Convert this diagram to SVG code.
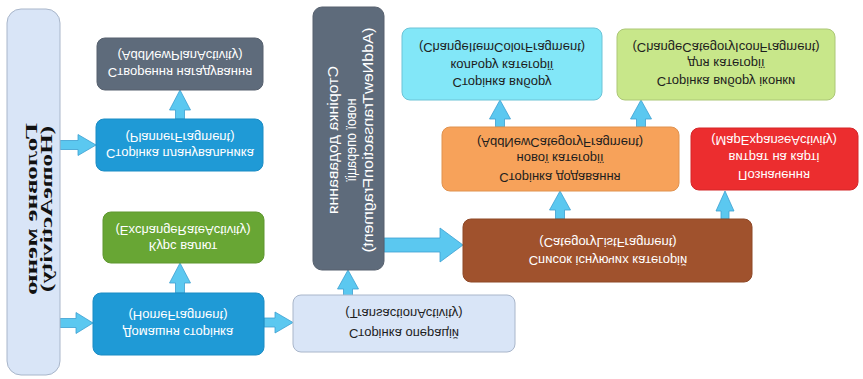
<svg xmlns="http://www.w3.org/2000/svg" width="863" height="379" viewBox="0 0 863 379">
<style>
.t{font-family:"Liberation Sans",Arial,sans-serif;font-size:13px;text-anchor:middle;dominant-baseline:central}
.w{fill:#ffffff}
.d{fill:#1e1e1e}
.v{font-family:"Liberation Sans",Arial,sans-serif;font-size:14px;text-anchor:middle;dominant-baseline:central;fill:#ffffff}
.m{font-family:"Liberation Serif","Times New Roman",serif;font-size:16px;font-weight:bold;text-anchor:middle;dominant-baseline:central;fill:#111111}
.arr{fill:#5bc8f0;stroke:#3c9fd0;stroke-width:0.8}
</style>
<rect width="863" height="379" fill="#ffffff"/>
<g id="connectors">
<polygon class="arr" points="175.5,119 175.5,110 169.5,110 180,90 190.5,110 184.5,110 184.5,119"/>
<polygon class="arr" points="175.5,293 175.5,283 169.5,283 180,263 190.5,283 184.5,283 184.5,293"/>
<polygon class="arr" points="343.5,296 343.5,289 337.5,289 348,270 358.5,289 352.5,289 352.5,296"/>
<polygon class="arr" points="555.5,219 555.5,210 549.5,210 560,191 570.5,210 564.5,210 564.5,219"/>
<polygon class="arr" points="495.5,127 495.5,119 489.5,119 500,100 510.5,119 504.5,119 504.5,127"/>
<polygon class="arr" points="636.5,127 636.5,119 630.5,119 641,100 651.5,119 645.5,119 645.5,127"/>
<polygon class="arr" points="721,219 721,211 716,211 725,191 734,211 729,211 729,219"/>
<polygon class="arr" points="60,140.5 78,140.5 78,134.5 96,145 78,155.5 78,149.5 60,149.5"/>
<polygon class="arr" points="60,318.5 76,318.5 76,312.5 93,323 76,333.5 76,327.5 60,327.5"/>
<polygon class="arr" points="264,318 275,318 275,312 293,322.5 275,333 275,327 264,327"/>
<polygon class="arr" points="384,238 440,238 440,228 463,245 440,262 440,252 384,252"/>
</g>
<g transform="matrix(1 0 0 -1 0 379)">
<g id="home-activity">
<rect x="7" y="4" width="53" height="366" rx="14" fill="#d9e5f7" stroke="#a9b6ca" stroke-width="1"/>
<text class="m" transform="translate(31,170) rotate(-90)" textLength="172" lengthAdjust="spacingAndGlyphs">Головне меню</text>
<text class="m" transform="translate(46,170) rotate(-90)" textLength="166" lengthAdjust="spacingAndGlyphs">(HomeActivity)</text>
</g>
<g id="add-new-plan">
<rect x="97" y="289" width="166" height="52" rx="8" fill="#5e6b7b" stroke="#56606e" stroke-width="1"/>
<text class="t w" x="180" y="307">Створення нагадування</text>
<text class="t w" x="180" y="324">(AddNewPlanActivity)</text>
</g>
<g id="planner-fragment">
<rect x="96" y="208" width="167" height="52" rx="8" fill="#1f9ad6" stroke="#1b8cc4" stroke-width="1"/>
<text class="t w" x="180" y="226">Сторінка планувальника</text>
<text class="t w" x="180" y="242">(PlannerFragment)</text>
</g>
<g id="exchange-rate">
<rect x="103" y="116" width="161" height="51" rx="8" fill="#68a634" stroke="#5e972e" stroke-width="1"/>
<text class="t w" x="183" y="133">Курс валют</text>
<text class="t w" x="183" y="149">(ExchangeRateActivity)</text>
</g>
<g id="home-fragment">
<rect x="93" y="24" width="171" height="62" rx="8" fill="#1f9ad6" stroke="#1b8cc4" stroke-width="1"/>
<text class="t w" x="178" y="47">Домашня сторінка</text>
<text class="t w" x="178" y="64">(HomeFragment)</text>
</g>
<g id="transaction-activity">
<rect x="293" y="27" width="222" height="57" rx="8" fill="#d9e5f7" stroke="#a9b6ca" stroke-width="1"/>
<text class="t d" x="404" y="46">Сторінка операцій</text>
<text class="t d" x="404" y="66">(TransactionActivity)</text>
</g>
<g id="add-new-transaction">
<rect x="313" y="109" width="71" height="263" rx="9" fill="#5e6b7b" stroke="#56606e" stroke-width="1"/>
<text class="v" transform="translate(333,239) rotate(-90)" textLength="148" lengthAdjust="spacingAndGlyphs">Сторінка додавання</text>
<text class="v" transform="translate(351,239) rotate(-90)" textLength="83" lengthAdjust="spacingAndGlyphs">нової операції</text>
<text class="v" transform="translate(368,239) rotate(-90)" textLength="225" lengthAdjust="spacingAndGlyphs">(AddNewTransactionFragment)</text>
</g>
<g id="category-list">
<rect x="463" y="97" width="289" height="63" rx="8" fill="#a0522d" stroke="#8e4827" stroke-width="1"/>
<text class="t w" x="608" y="119">Список існуючих категорій</text>
<text class="t w" x="608" y="137">(CategoryListFragment)</text>
</g>
<g id="add-new-category">
<rect x="442" y="188" width="237" height="64" rx="8" fill="#f7a25a" stroke="#e0924f" stroke-width="1"/>
<text class="t d" x="560" y="202">Сторінка додавання</text>
<text class="t d" x="560" y="221">нової категорії</text>
<text class="t d" x="560" y="237">(AddNewCategoryFragment)</text>
</g>
<g id="change-item-color">
<rect x="402" y="279" width="200" height="72" rx="8" fill="#82e7f8" stroke="#6cc3d6" stroke-width="1"/>
<text class="t d" x="502" y="297">Сторінка вибору</text>
<text class="t d" x="502" y="314">кольору категорії</text>
<text class="t d" x="502" y="332">(ChangeItemColorFragment)</text>
</g>
<g id="change-category-icon">
<rect x="617" y="279" width="218" height="71" rx="8" fill="#c8e78a" stroke="#acc777" stroke-width="1"/>
<text class="t d" x="726" y="298">Сторінка вибору іконки</text>
<text class="t d" x="726" y="316">для категорії</text>
<text class="t d" x="726" y="332">(ChangeCategoryIconFragment)</text>
</g>
<g id="map-expanse">
<rect x="691" y="189" width="167" height="62" rx="8" fill="#ec2d2f" stroke="#d42629" stroke-width="1"/>
<text class="t w" x="774" y="204">Позначення</text>
<text class="t w" x="774" y="222">витрат на карті</text>
<text class="t w" x="774" y="239">(MapExpanseActivity)</text>
</g>
</g>
</svg>
